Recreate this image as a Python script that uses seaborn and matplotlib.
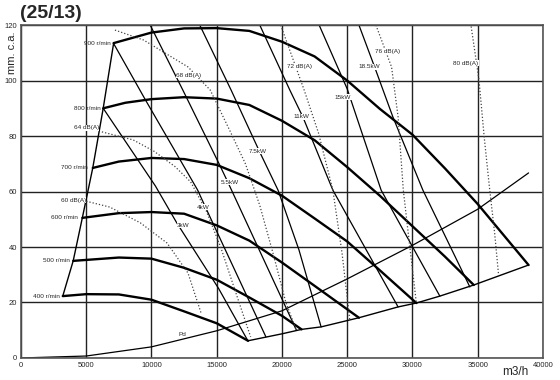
import matplotlib
matplotlib.use("Agg")
import matplotlib.pyplot as plt
from matplotlib.ticker import MultipleLocator
import seaborn as sns

# fan speed curves (m3/h, mm c.a.)
rpm400_x = [3200, 5000, 7500, 10000, 12500, 15000, 17400]
rpm400_y = [22.3, 23.0, 22.9, 21.0, 16.8, 12.5, 6.2]
rpm500_x = [4000, 7500, 10000, 12500, 15000, 17500, 20000, 21500]
rpm500_y = [35.0, 36.2, 35.8, 32.5, 28.2, 21.8, 15.2, 10.3]
rpm600_x = [4700, 7500, 10000, 12500, 15000, 17500, 20000, 22500, 25900]
rpm600_y = [50.5, 52.2, 52.6, 52.0, 47.8, 42.3, 34.4, 26.0, 14.5]
rpm700_x = [5500, 7500, 10000, 12500, 15000, 17500, 20000, 22500, 25000, 27500, 30300]
rpm700_y = [68.5, 70.8, 72.1, 71.7, 69.6, 64.8, 58.5, 50.3, 42.0, 31.6, 19.8]
rpm800_x = [6300, 8000, 10000, 12500, 15000, 17500, 20000, 22500, 25000, 27500, 30000, 32500, 34700]
rpm800_y = [90.0, 92.0, 93.3, 94.0, 93.5, 91.2, 85.5, 78.5, 68.8, 58.5, 47.5, 36.5, 26.3]
rpm900_x = [7100, 10000, 12500, 15000, 17500, 20000, 22500, 25000, 27500, 30000, 32500, 35000, 38900]
rpm900_y = [113.5, 117.3, 118.8, 118.9, 117.9, 114.0, 108.7, 100.0, 89.8, 80.5, 68.3, 55.5, 33.5]
rpm_names = ["400 r/min", "500 r/min", "600 r/min", "700 r/min", "800 r/min", "900 r/min"]
rpm_label_x = [3000, 3770, 4380, 5150, 6080, 6850]

# max flow line
maxflow_x = [17400, 20000, 21500, 23000, 25900, 28900, 30300, 32100, 34700, 38900]
maxflow_y = [6.2, 8.7, 10.3, 11.2, 14.5, 18.4, 19.8, 22.3, 26.3, 33.5]

# dynamic pressure
pd_x = [0, 5000, 10000, 15000, 20000, 25000, 30000, 35000, 38900]
pd_y = [0, 0.7, 4.0, 9.8, 17.0, 28.5, 40.6, 53.6, 66.7]

# power lines
kw_names = ["3kW", "4kW", "5.5kW", "7.5kW", "11kW", "15kW", "18.5kW"]
kw_x = [[6300, 10300, 11900, 15150, 17400],
        [7080, 9540, 13540, 14310, 18770],
        [9900, 12400, 15150, 15850, 21100],
        [13700, 16100, 18300, 19700, 21300, 23000],
        [18300, 20600, 21600, 23900, 28900],
        [22850, 25000, 27600, 32100],
        [25900, 27100, 28500, 30800, 34400]]
kw_y = [[90.0, 62.0, 49.0, 25.0, 6.1],
        [113.5, 93.0, 60.5, 52.6, 7.6],
        [120.0, 96.6, 70.3, 63.4, 10.1],
        [120.0, 96.6, 74.2, 60.5, 39.0, 11.2],
        [120.0, 96.6, 86.9, 60.5, 18.4],
        [120.0, 97.0, 60.5, 22.3],
        [120.0, 104.9, 86.9, 60.5, 25.6]]
kw_label_x = [12460, 14000, 16000, 18150, 21460, 24690, 26690]
kw_label_y = [47.9, 54.4, 63.4, 74.6, 86.9, 94.0, 104.9]

# noise lines
db_names = ["60 dB(A)", "64 dB(A)", "68 dB(A)", "72 dB(A)", "76 dB(A)", "80 dB(A)"]
db_x = [[5000, 6800, 9150, 11200, 12800, 13800],
        [6200, 8600, 10200, 11800, 13000, 14200, 15300, 16500, 17600],
        [7200, 9400, 12800, 14500, 16000, 17200, 18300, 19300, 20300, 21100],
        [19900, 21700, 22800, 23900, 24600, 25200],
        [27200, 28400, 28900, 29300, 29800, 30300],
        [34500, 35100, 35500, 35900, 36300, 36600]]
db_y = [[56.5, 54.4, 48.7, 41.4, 30.6, 16.2],
        [81.5, 78.6, 74.5, 69.0, 63.5, 53.0, 40.0, 23.0, 7.6],
        [118.2, 114.6, 104.9, 96.6, 82.0, 70.0, 55.0, 38.0, 20.0, 10.0],
        [120.0, 96.6, 81.1, 60.5, 38.0, 13.6],
        [120.0, 104.9, 86.9, 60.5, 40.0, 19.8],
        [119.5, 100.2, 79.6, 61.6, 45.0, 30.0]]
db_label_x = [4000, 5000, 12850, 21310, 28080, 34080]
db_label_y = [56.9, 82.9, 102.0, 104.9, 110.6, 106.3]

sns.set_style("white")
plt.rcParams['font.family'] = ['Liberation Sans', 'DejaVu Sans']

fig = plt.figure(figsize=(5.6, 3.8), dpi=100)
ax = fig.add_axes([0.0375, 0.058, 0.932, 0.876])


def draw(x, y, lw, ls="-", color="black"):
    sns.lineplot(x=x, y=y, ax=ax, sort=False, estimator=None, color=color,
                 lw=lw, linestyle=ls, legend=False)


rpm_x = [rpm400_x, rpm500_x, rpm600_x, rpm700_x, rpm800_x, rpm900_x]
rpm_y = [rpm400_y, rpm500_y, rpm600_y, rpm700_y, rpm800_y, rpm900_y]
for xs, ys in zip(rpm_x, rpm_y):
    draw(xs, ys, 1.7)

# surge line through the start of each speed curve
draw([xs[0] for xs in rpm_x], [ys[0] for ys in rpm_y], 1.0)
draw(maxflow_x, maxflow_y, 1.0)
draw(pd_x, pd_y, 0.9)

for xs, ys in zip(kw_x, kw_y):
    draw(xs, ys, 0.9)
for xs, ys in zip(db_x, db_y):
    draw(xs, ys, 0.9, ls=(0, (1, 1.6)), color="#444444")

lab = dict(fontsize=4.6, ha="center", va="center",
           bbox=dict(facecolor="white", edgecolor="none", pad=0.4))
for name, lx, ys in zip(rpm_names, rpm_label_x, rpm_y):
    ax.text(lx, ys[0], name, fontsize=4.6, ha="right", va="center")
for name, lx, ly in zip(kw_names, kw_label_x, kw_label_y):
    ax.text(lx, ly, name, **lab)
for name, lx, ly in zip(db_names, db_label_x, db_label_y):
    ax.text(lx, ly, name, **lab)
ax.text(12380, 8.6, "Pd", **lab)

ax.set_xlim(0, 40000)
ax.set_ylim(0, 120)
ax.set_xticks(range(0, 40001, 5000))
ax.set_yticks(range(0, 121, 20))
ax.xaxis.set_minor_locator(MultipleLocator(1000))
ax.yaxis.set_minor_locator(MultipleLocator(4))
ax.tick_params(axis="both", which="major", labelsize=5.5, length=0, pad=3)
ax.tick_params(axis="both", which="minor", length=2, width=0.5, color="#555555")
ax.grid(True, which="major", color="#222222", lw=1.0)
ax.set_axisbelow(True)
ax.set_xlabel("")
ax.set_ylabel("")
for s in ax.spines.values():
    s.set_color("#555555")
    s.set_linewidth(1.2)

fig.text(0.036, 0.988, "(25/13)", fontsize=14, fontweight="bold", ha="left", va="top")
fig.text(0.021, 0.918, "mm. c.a.", fontsize=8, rotation=90, ha="center", va="top")
fig.text(0.92, 0.02, "m3/h", fontsize=8.5, ha="center", va="center")

fig.savefig("out.png", dpi=100)
